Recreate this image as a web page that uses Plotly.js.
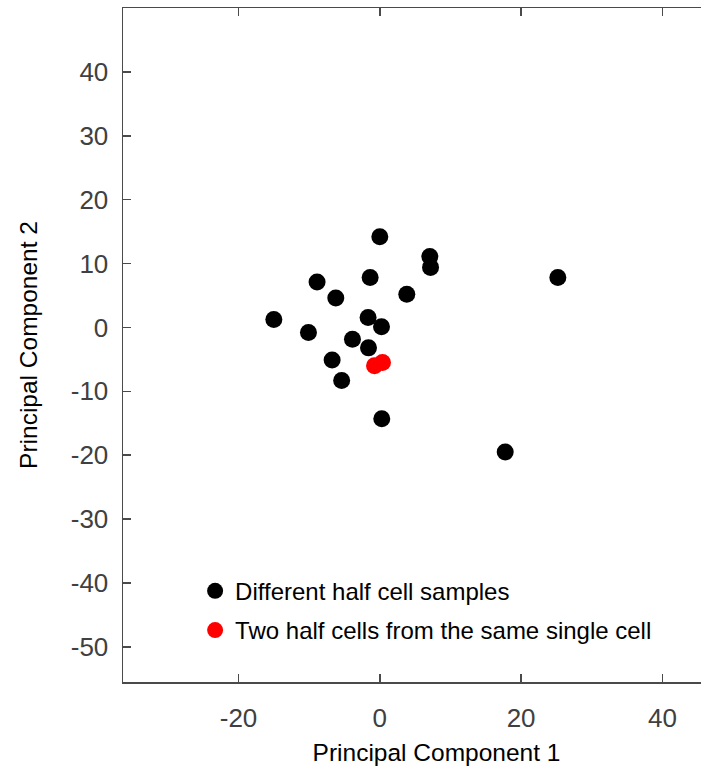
<!DOCTYPE html>
<html>
<head>
<meta charset="utf-8">
<script src="https://cdn.plot.ly/plotly-3.0.1.min.js"></script>
<style>
html,body{margin:0;padding:0;overflow:hidden;background:#fff;}
#chart{width:760px;height:777px;}
</style>
</head>
<body>
<div id="chart"></div>
<script>
// Black: different half cell samples
const pc1Black = [0.0, 7.08, 7.18, 25.2, -8.88, -1.37, -6.23, 3.82, -15.0, -10.1, -1.66, 0.24, -3.87, -1.6, -6.75, -5.4, 0.28, 17.75];
const pc2Black = [14.2, 11.1, 9.4, 7.8, 7.1, 7.8, 4.6, 5.2, 1.25, -0.8, 1.56, 0.1, -1.84, -3.2, -5.1, -8.3, -14.3, -19.5];
// Red: two half cells from the same single cell
const pc1Red = [-0.75, 0.38];
const pc2Red = [-6.0, -5.5];

const xTicks = [-20, 0, 20, 40];
const yTicks = [-50, -40, -30, -20, -10, 0, 10, 20, 30, 40];

const FONT = 'Liberation Sans, Arial, sans-serif';

const traces = [
  {x: pc1Black, y: pc2Black, type: 'scatter', mode: 'markers', name: 'Different half cell samples',
   legendgroup: 'a', marker: {color: '#000000', size: 17, line: {width: 0}}},
  {x: pc1Red, y: pc2Red, type: 'scatter', mode: 'markers', name: 'Two half cells from the same single cell',
   legendgroup: 'b', marker: {color: '#ff0000', size: 17, line: {width: 0}}}
];

const axisCommon = {
  showline: true, linecolor: '#4a4a4a', linewidth: 1.5, mirror: 'ticks',
  ticks: 'inside', ticklen: 8, tickwidth: 1.5, tickcolor: '#4a4a4a',
  showgrid: false, zeroline: false,
  tickfont: {family: FONT, size: 26, color: '#404040'}
};

const layout = {
  width: 760, height: 777,
  margin: {l: 123, r: 10, t: 8, b: 95},
  paper_bgcolor: '#ffffff', plot_bgcolor: '#ffffff',
  showlegend: true,
  xaxis: Object.assign({}, axisCommon, {
    range: [-36.35, 52.4], tickmode: 'array', tickvals: xTicks, ticktext: xTicks.map(String),
    ticklabelstandoff: 12,
    title: {text: 'Principal Component 1', font: {family: FONT, size: 24.5, color: '#000'}, standoff: 12}
  }),
  yaxis: Object.assign({}, axisCommon, {
    range: [-55.5, 50], tickmode: 'array', tickvals: yTicks, ticktext: yTicks.map(String),
    ticklabelstandoff: 8,
    title: {text: 'Principal Component 2', font: {family: FONT, size: 24.5, color: '#000'}, standoff: 26}
  }),
  legend: {
    x: 0.115, y: 0.168, xanchor: 'left', yanchor: 'top',
    bgcolor: 'rgba(0,0,0,0)', borderwidth: 0,
    font: {family: FONT, size: 24, color: '#000'},
    traceorder: 'grouped', tracegroupgap: 5, itemwidth: 30
  }
};

Plotly.newPlot('chart', traces, layout, {displayModeBar: false, staticPlot: true});
</script>
</body>
</html>
